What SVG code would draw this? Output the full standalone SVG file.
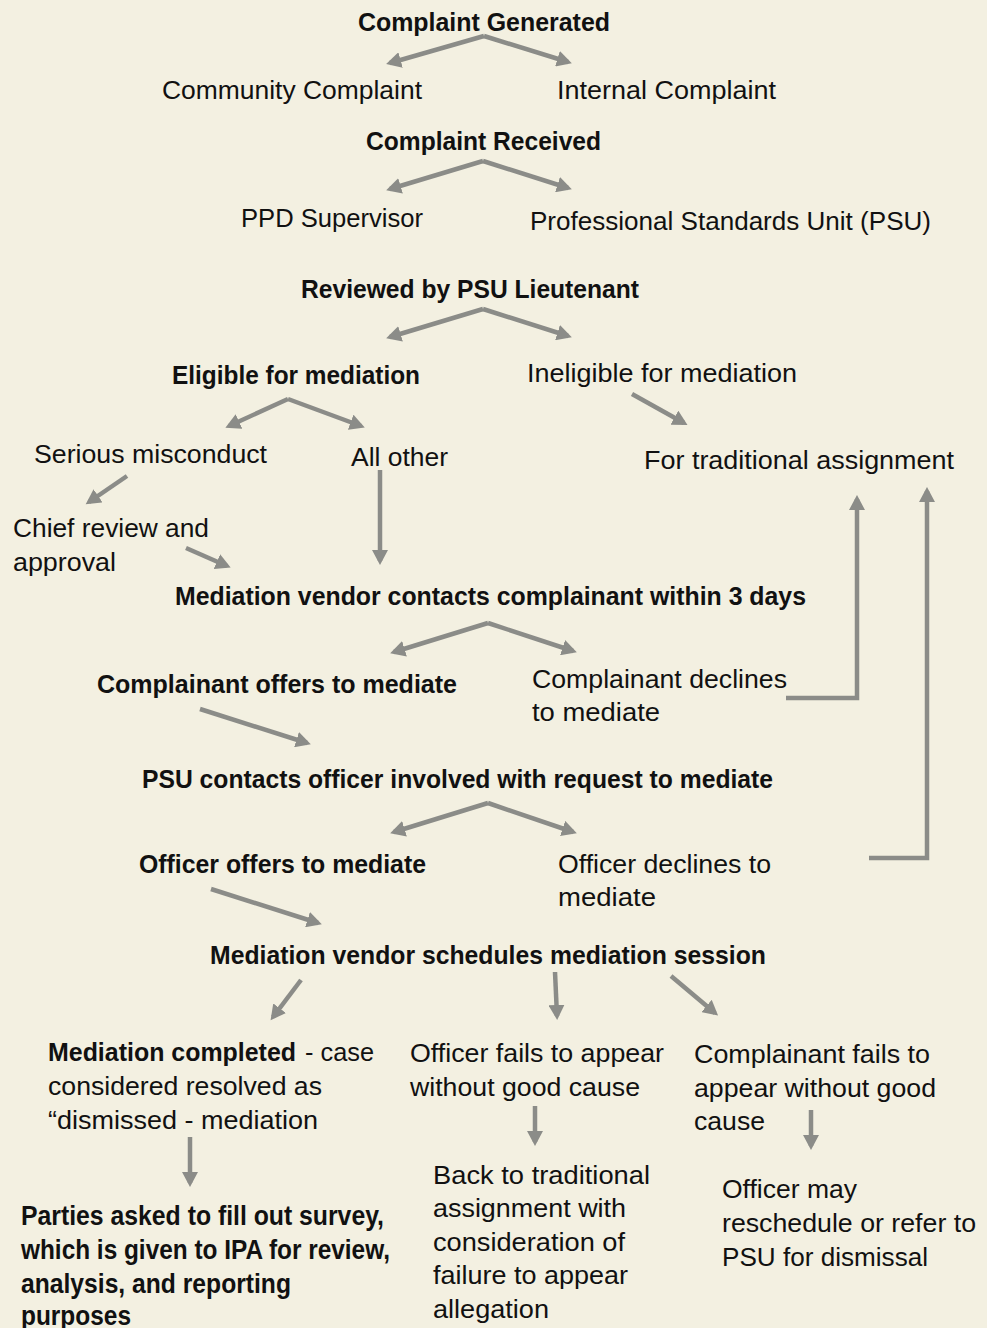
<svg xmlns="http://www.w3.org/2000/svg" width="987" height="1328" viewBox="0 0 987 1328">
<style>
text{font-family:"Liberation Sans",Arial,sans-serif;font-size:25px;fill:#111;}
.b{font-weight:700;}
.l{font-size:27px;}
.c{stroke:#8b8c88;stroke-width:4.5;fill:none;marker-end:url(#ah);}
</style>
<defs>
<marker id="ah" markerUnits="userSpaceOnUse" markerWidth="16" markerHeight="16" refX="11" refY="8" orient="auto" viewBox="0 0 16 16">
<path d="M0,0 L15,8 L0,16 z" fill="#8b8c88"/>
</marker>
</defs>
<rect width="987" height="1328" fill="#f3f0e1"/>
<g id="connectors">
<line class="c" x1="484" y1="36" x2="390" y2="63"/>
<line class="c" x1="484" y1="36" x2="568" y2="62"/>
<line class="c" x1="483" y1="161" x2="390" y2="189"/>
<line class="c" x1="483" y1="161" x2="568" y2="188"/>
<line class="c" x1="483" y1="309" x2="390" y2="337"/>
<line class="c" x1="483" y1="309" x2="568" y2="336"/>
<line class="c" x1="288" y1="399" x2="229" y2="426"/>
<line class="c" x1="288" y1="399" x2="361" y2="426"/>
<line class="c" x1="632" y1="394" x2="684" y2="423"/>
<line class="c" x1="127" y1="476" x2="89" y2="502"/>
<line class="c" x1="186" y1="548" x2="227" y2="566"/>
<line class="c" x1="380" y1="470" x2="380" y2="561"/>
<line class="c" x1="488" y1="623" x2="394" y2="652"/>
<line class="c" x1="488" y1="623" x2="573" y2="651"/>
<polyline class="c" points="786,698 857,698 857,499"/>
<line class="c" x1="200" y1="709" x2="307" y2="743"/>
<line class="c" x1="488" y1="803" x2="394" y2="832"/>
<line class="c" x1="488" y1="803" x2="573" y2="832"/>
<polyline class="c" points="869,858 927,858 927,491"/>
<line class="c" x1="211" y1="889" x2="318" y2="923"/>
<line class="c" x1="301" y1="980" x2="273" y2="1017"/>
<line class="c" x1="555" y1="972" x2="557" y2="1016"/>
<line class="c" x1="671" y1="976" x2="715" y2="1013"/>
<line class="c" x1="190" y1="1137" x2="190" y2="1183"/>
<line class="c" x1="535" y1="1106" x2="535" y2="1142"/>
<line class="c" x1="811" y1="1110" x2="811" y2="1146"/>
</g>
<g id="n1"><text class="b" x="358" y="31" textLength="252" lengthAdjust="spacingAndGlyphs">Complaint Generated</text></g>
<g id="n2"><text x="162" y="99" textLength="260" lengthAdjust="spacingAndGlyphs">Community Complaint</text></g>
<g id="n3"><text x="557" y="99" textLength="219" lengthAdjust="spacingAndGlyphs">Internal Complaint</text></g>
<g id="n4"><text class="b" x="366" y="150" textLength="235" lengthAdjust="spacingAndGlyphs">Complaint Received</text></g>
<g id="n5"><text x="241" y="227" textLength="182" lengthAdjust="spacingAndGlyphs">PPD Supervisor</text></g>
<g id="n6"><text x="530" y="230" textLength="401" lengthAdjust="spacingAndGlyphs">Professional Standards Unit (PSU)</text></g>
<g id="n7"><text class="b" x="301" y="298" textLength="338" lengthAdjust="spacingAndGlyphs">Reviewed by PSU Lieutenant</text></g>
<g id="n8"><text class="b" x="172" y="384" textLength="248" lengthAdjust="spacingAndGlyphs">Eligible for mediation</text></g>
<g id="n9"><text x="527" y="382" textLength="270" lengthAdjust="spacingAndGlyphs">Ineligible for mediation</text></g>
<g id="n10"><text x="34" y="463" textLength="233" lengthAdjust="spacingAndGlyphs">Serious misconduct</text></g>
<g id="n11"><text x="351" y="466" textLength="97" lengthAdjust="spacingAndGlyphs">All other</text></g>
<g id="n12"><text x="644" y="469" textLength="310" lengthAdjust="spacingAndGlyphs">For traditional assignment</text></g>
<g id="n13"><text x="13" y="537" textLength="196" lengthAdjust="spacingAndGlyphs">Chief review and</text><text x="13" y="571" textLength="103" lengthAdjust="spacingAndGlyphs">approval</text></g>
<g id="n14"><text class="b" x="175" y="605" textLength="631" lengthAdjust="spacingAndGlyphs">Mediation vendor contacts complainant within 3 days</text></g>
<g id="n15"><text class="b" x="97" y="693" textLength="360" lengthAdjust="spacingAndGlyphs">Complainant offers to mediate</text></g>
<g id="n16"><text x="532" y="688" textLength="255" lengthAdjust="spacingAndGlyphs">Complainant declines</text><text x="532" y="721" textLength="128" lengthAdjust="spacingAndGlyphs">to mediate</text></g>
<g id="n17"><text class="b" x="142" y="788" textLength="631" lengthAdjust="spacingAndGlyphs">PSU contacts officer involved with request to mediate</text></g>
<g id="n18"><text class="b" x="139" y="873" textLength="287" lengthAdjust="spacingAndGlyphs">Officer offers to mediate</text></g>
<g id="n19"><text x="558" y="873" textLength="213" lengthAdjust="spacingAndGlyphs">Officer declines to</text><text x="558" y="906" textLength="98" lengthAdjust="spacingAndGlyphs">mediate</text></g>
<g id="n20"><text class="b" x="210" y="964" textLength="556" lengthAdjust="spacingAndGlyphs">Mediation vendor schedules mediation session</text></g>
<g id="n21"><text class="b" x="48" y="1061" textLength="248" lengthAdjust="spacingAndGlyphs">Mediation completed</text><text x="305" y="1061" textLength="69" lengthAdjust="spacingAndGlyphs">- case</text><text x="48" y="1095" textLength="274" lengthAdjust="spacingAndGlyphs">considered resolved as</text><text x="48" y="1129" textLength="270" lengthAdjust="spacingAndGlyphs">“dismissed - mediation</text></g>
<g id="n22"><text x="410" y="1062" textLength="254" lengthAdjust="spacingAndGlyphs">Officer fails to appear</text><text x="410" y="1096" textLength="230" lengthAdjust="spacingAndGlyphs">without good cause</text></g>
<g id="n23"><text x="694" y="1063" textLength="236" lengthAdjust="spacingAndGlyphs">Complainant fails to</text><text x="694" y="1097" textLength="242" lengthAdjust="spacingAndGlyphs">appear without good</text><text x="694" y="1130" textLength="71" lengthAdjust="spacingAndGlyphs">cause</text></g>
<g id="n24"><text x="433" y="1184" textLength="217" lengthAdjust="spacingAndGlyphs">Back to traditional</text><text x="433" y="1217" textLength="193" lengthAdjust="spacingAndGlyphs">assignment with</text><text x="433" y="1251" textLength="192" lengthAdjust="spacingAndGlyphs">consideration of</text><text x="433" y="1284" textLength="195" lengthAdjust="spacingAndGlyphs">failure to appear</text><text x="433" y="1318" textLength="116" lengthAdjust="spacingAndGlyphs">allegation</text></g>
<g id="n25"><text x="722" y="1198" textLength="135" lengthAdjust="spacingAndGlyphs">Officer may</text><text x="722" y="1232" textLength="254" lengthAdjust="spacingAndGlyphs">reschedule or refer to</text><text x="722" y="1266" textLength="206" lengthAdjust="spacingAndGlyphs">PSU for dismissal</text></g>
<g id="n26"><text class="b l" x="21" y="1225" textLength="363" lengthAdjust="spacingAndGlyphs">Parties asked to fill out survey,</text><text class="b l" x="21" y="1259" textLength="369" lengthAdjust="spacingAndGlyphs">which is given to IPA for review,</text><text class="b l" x="21" y="1293" textLength="270" lengthAdjust="spacingAndGlyphs">analysis, and reporting</text><text class="b l" x="21" y="1325" textLength="110" lengthAdjust="spacingAndGlyphs">purposes</text></g>
</svg>
